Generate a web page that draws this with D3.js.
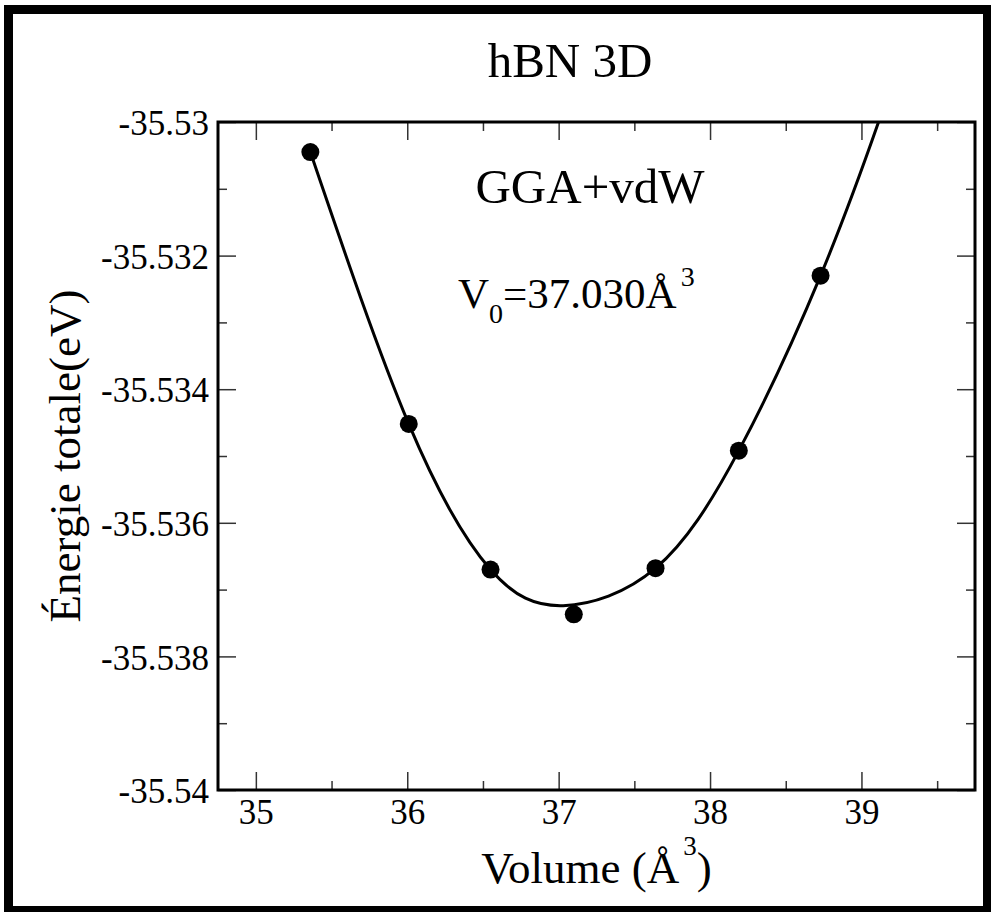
<!DOCTYPE html>
<html>
<head>
    <meta charset="UTF-8">
    <script src="https://cdn.jsdelivr.net/npm/d3@7"></script>
    <style>
        body { margin: 0; }
        svg, svg text, svg tspan {
            font-family: "Liberation Serif", "Times New Roman", Tinos, Times, serif !important;
        }
    </style>
</head>
<body>
    <svg id="main" width="991" height="912" font-family="Liberation Serif"></svg>

    <script>
        // computed points
        let volume = [35.36, 36.01, 36.55, 37.10, 37.64, 38.19, 38.73]
        let energy = [-35.53045, -35.53452, -35.53670, -35.53737, -35.53668, -35.53492, -35.53230]

        // fitted curve
        let fitVolume = [35.36, 36.01, 36.55, 37.03, 37.64, 38.19, 38.73, 39.11, 39.30]
        let fitEnergy = [-35.53045, -35.53452, -35.53670, -35.53724, -35.53668, -35.53492, -35.53230, -35.53002, -35.52875]

        let xTicks = [35, 36, 37, 38, 39]
        let xMinor = [35.5, 36.5, 37.5, 38.5, 39.5]
        let yTicks = [-35.53, -35.532, -35.534, -35.536, -35.538, -35.54]
        let yMinor = [-35.531, -35.533, -35.535, -35.537, -35.539]

        let pLeft = 218, pTop = 122, pRight = 975, pBottom = 790
        let fontName = "Liberation Serif"

        let svg = d3.select("#main")

        // outer black frame
        svg.append("rect").attr("x", 4).attr("y", 5).attr("width", 9).attr("height", 907)
        svg.append("rect").attr("x", 4).attr("y", 5).attr("width", 987).attr("height", 9)
        svg.append("rect").attr("x", 983).attr("y", 5).attr("width", 8).attr("height", 907)
        svg.append("rect").attr("x", 4).attr("y", 906).attr("width", 987).attr("height", 6)

        let x = d3.scaleLinear().domain([34.75, 39.75]).range([pLeft, pRight])
        let y = d3.scaleLinear().domain([-35.54, -35.53]).range([pBottom, pTop])

        let fmt = d => String(+d.toFixed(3))

        // major ticks with labels
        let gx = svg.append("g").attr("transform", `translate(0,${pBottom})`)
            .call(d3.axisBottom(x).tickValues(xTicks).tickSize(-18).tickPadding(9).tickFormat(fmt))
        gx.selectAll("text").attr("font-size", 35)

        let gy = svg.append("g").attr("transform", `translate(${pLeft},0)`)
            .call(d3.axisLeft(y).tickValues(yTicks).tickSize(-18).tickPadding(9).tickFormat(fmt))
        gy.selectAll("text").attr("font-size", 35).attr("dy", "0.36em")

        // mirrored ticks on top and right
        svg.append("g").attr("transform", `translate(0,${pTop})`)
            .call(d3.axisTop(x).tickValues(xTicks).tickSize(-18).tickFormat(""))
        svg.append("g").attr("transform", `translate(${pRight},0)`)
            .call(d3.axisRight(y).tickValues(yTicks).tickSize(-18).tickFormat(""))

        // minor ticks
        svg.append("g").attr("transform", `translate(0,${pBottom})`)
            .call(d3.axisBottom(x).tickValues(xMinor).tickSize(-9).tickFormat(""))
        svg.append("g").attr("transform", `translate(0,${pTop})`)
            .call(d3.axisTop(x).tickValues(xMinor).tickSize(-9).tickFormat(""))
        svg.append("g").attr("transform", `translate(${pLeft},0)`)
            .call(d3.axisLeft(y).tickValues(yMinor).tickSize(-9).tickFormat(""))
        svg.append("g").attr("transform", `translate(${pRight},0)`)
            .call(d3.axisRight(y).tickValues(yMinor).tickSize(-9).tickFormat(""))

        svg.selectAll(".domain").remove()
        svg.selectAll(".tick line").attr("stroke", "#333").attr("stroke-width", 1.5)
        svg.selectAll("g").attr("font-family", fontName)

        // clip for the fit curve
        svg.append("clipPath").attr("id", "plotclip")
            .append("rect").attr("x", pLeft).attr("y", pTop)
            .attr("width", pRight - pLeft).attr("height", pBottom - pTop)

        let fit = fitVolume.map((v, i) => [v, fitEnergy[i]])
        svg.append("path")
            .datum(fit)
            .attr("clip-path", "url(#plotclip)")
            .attr("fill", "none")
            .attr("stroke", "black")
            .attr("stroke-width", 3)
            .attr("d", d3.line().x(d => x(d[0])).y(d => y(d[1])).curve(d3.curveNatural))

        svg.append("g").selectAll("circle")
            .data(volume)
            .enter()
            .append("circle")
            .attr("cx", d => x(d))
            .attr("cy", (d, i) => y(energy[i]))
            .attr("r", 9)
            .attr("fill", "black")

        // plot frame
        svg.append("rect")
            .attr("x", pLeft).attr("y", pTop)
            .attr("width", pRight - pLeft).attr("height", pBottom - pTop)
            .attr("fill", "none").attr("stroke", "black").attr("stroke-width", 3)

        // texts
        svg.append("text").attr("x", 570).attr("y", 77).attr("text-anchor", "middle")
            .attr("font-size", 49).text("hBN 3D")

        svg.append("text").attr("x", 590).attr("y", 203).attr("text-anchor", "middle")
            .attr("font-size", 49).text("GGA+vdW")

        let v0 = svg.append("text").attr("x", 458).attr("y", 308).attr("font-size", 43)
        v0.append("tspan").text("V")
        v0.append("tspan").attr("font-size", 28).attr("dy", 15).text("0")
        v0.append("tspan").attr("dy", -15).text("=37.030Å")
        v0.append("tspan").attr("font-size", 28).attr("dx", 4).attr("dy", -22).text("3")

        let xl = svg.append("text").attr("x", (pLeft + pRight) / 2).attr("y", 883)
            .attr("text-anchor", "middle").attr("font-size", 45)
        xl.append("tspan").text("Volume (Å")
        xl.append("tspan").attr("font-size", 27).attr("dx", 4).attr("dy", -28).text("3")
        xl.append("tspan").attr("dy", 28).text(")")

        svg.append("text")
            .attr("transform", `translate(80,${(pTop + pBottom) / 2}) rotate(-90)`)
            .attr("text-anchor", "middle")
            .attr("font-size", 45)
            .text("Énergie totale(eV)")

        svg.selectAll("text")
            .attr("font-family", fontName)
            .style("font-family", `"${fontName}"`)
            .attr("fill", "black")
    </script>
</body>
</html>
